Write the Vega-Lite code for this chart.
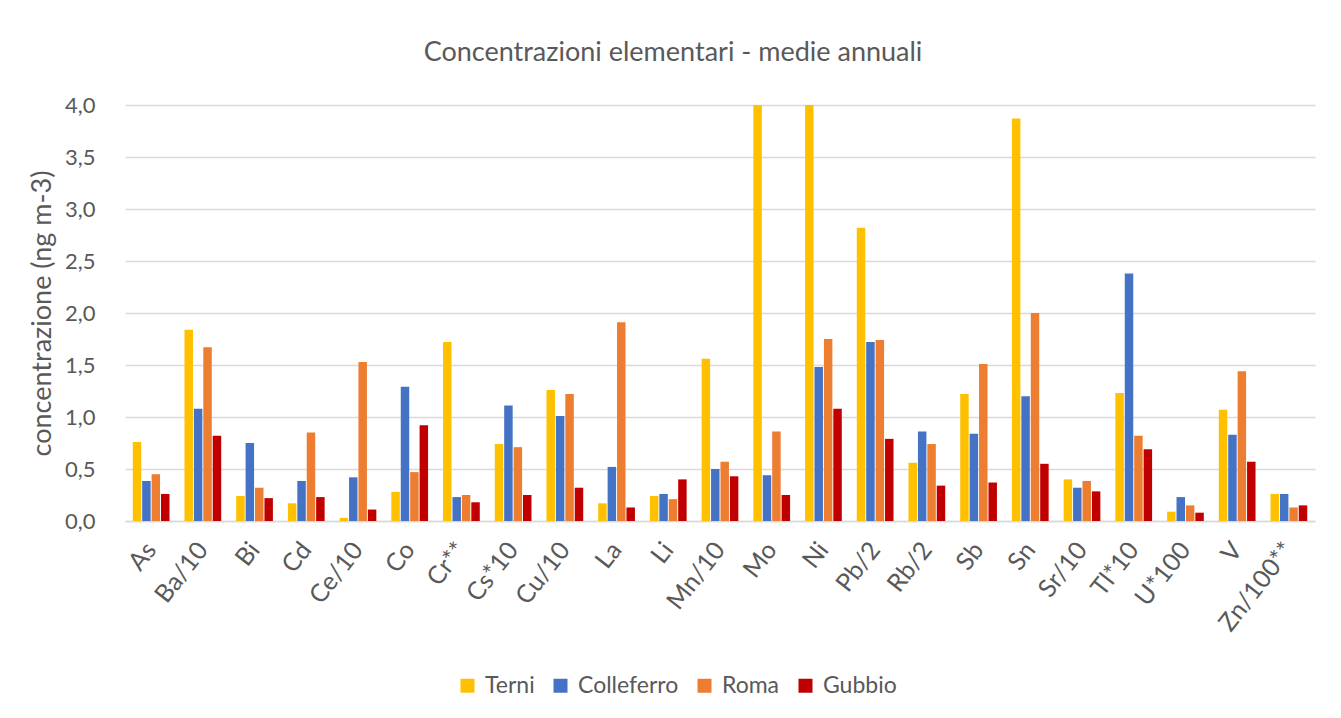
{
  "$schema": "https://vega.github.io/schema/vega-lite/v6.json",
  "width": 1190,
  "height": 416,
  "autosize": {"type": "none"},
  "padding": {"left": 125, "top": 105, "right": 26, "bottom": 197},
  "background": "white",
  "title": {
    "text": "Concentrazioni elementari - medie annuali",
    "font": "Lato",
    "fontSize": 27,
    "fontWeight": "normal",
    "color": "#595959",
    "anchor": "middle",
    "frame": "group",
    "offset": 27,
    "dx": -47
  },
  "config": {
    "font": "Lato",
    "view": {"stroke": null}
  },
  "data": {
    "values": [
      {"element": "As", "site": "Terni", "value": 0.76},
      {"element": "As", "site": "Colleferro", "value": 0.385},
      {"element": "As", "site": "Roma", "value": 0.45},
      {"element": "As", "site": "Gubbio", "value": 0.26},
      {"element": "Ba/10", "site": "Terni", "value": 1.84},
      {"element": "Ba/10", "site": "Colleferro", "value": 1.08},
      {"element": "Ba/10", "site": "Roma", "value": 1.67},
      {"element": "Ba/10", "site": "Gubbio", "value": 0.82},
      {"element": "Bi", "site": "Terni", "value": 0.24},
      {"element": "Bi", "site": "Colleferro", "value": 0.75},
      {"element": "Bi", "site": "Roma", "value": 0.32},
      {"element": "Bi", "site": "Gubbio", "value": 0.22},
      {"element": "Cd", "site": "Terni", "value": 0.17},
      {"element": "Cd", "site": "Colleferro", "value": 0.385},
      {"element": "Cd", "site": "Roma", "value": 0.85},
      {"element": "Cd", "site": "Gubbio", "value": 0.23},
      {"element": "Ce/10", "site": "Terni", "value": 0.03},
      {"element": "Ce/10", "site": "Colleferro", "value": 0.42},
      {"element": "Ce/10", "site": "Roma", "value": 1.53},
      {"element": "Ce/10", "site": "Gubbio", "value": 0.11},
      {"element": "Co", "site": "Terni", "value": 0.28},
      {"element": "Co", "site": "Colleferro", "value": 1.29},
      {"element": "Co", "site": "Roma", "value": 0.47},
      {"element": "Co", "site": "Gubbio", "value": 0.92},
      {"element": "Cr**", "site": "Terni", "value": 1.72},
      {"element": "Cr**", "site": "Colleferro", "value": 0.23},
      {"element": "Cr**", "site": "Roma", "value": 0.25},
      {"element": "Cr**", "site": "Gubbio", "value": 0.18},
      {"element": "Cs*10", "site": "Terni", "value": 0.74},
      {"element": "Cs*10", "site": "Colleferro", "value": 1.11},
      {"element": "Cs*10", "site": "Roma", "value": 0.71},
      {"element": "Cs*10", "site": "Gubbio", "value": 0.25},
      {"element": "Cu/10", "site": "Terni", "value": 1.26},
      {"element": "Cu/10", "site": "Colleferro", "value": 1.01},
      {"element": "Cu/10", "site": "Roma", "value": 1.22},
      {"element": "Cu/10", "site": "Gubbio", "value": 0.32},
      {"element": "La", "site": "Terni", "value": 0.17},
      {"element": "La", "site": "Colleferro", "value": 0.52},
      {"element": "La", "site": "Roma", "value": 1.91},
      {"element": "La", "site": "Gubbio", "value": 0.13},
      {"element": "Li", "site": "Terni", "value": 0.24},
      {"element": "Li", "site": "Colleferro", "value": 0.26},
      {"element": "Li", "site": "Roma", "value": 0.21},
      {"element": "Li", "site": "Gubbio", "value": 0.40},
      {"element": "Mn/10", "site": "Terni", "value": 1.56},
      {"element": "Mn/10", "site": "Colleferro", "value": 0.50},
      {"element": "Mn/10", "site": "Roma", "value": 0.57},
      {"element": "Mn/10", "site": "Gubbio", "value": 0.43},
      {"element": "Mo", "site": "Terni", "value": 4.0},
      {"element": "Mo", "site": "Colleferro", "value": 0.44},
      {"element": "Mo", "site": "Roma", "value": 0.86},
      {"element": "Mo", "site": "Gubbio", "value": 0.25},
      {"element": "Ni", "site": "Terni", "value": 4.0},
      {"element": "Ni", "site": "Colleferro", "value": 1.48},
      {"element": "Ni", "site": "Roma", "value": 1.75},
      {"element": "Ni", "site": "Gubbio", "value": 1.08},
      {"element": "Pb/2", "site": "Terni", "value": 2.82},
      {"element": "Pb/2", "site": "Colleferro", "value": 1.72},
      {"element": "Pb/2", "site": "Roma", "value": 1.74},
      {"element": "Pb/2", "site": "Gubbio", "value": 0.79},
      {"element": "Rb/2", "site": "Terni", "value": 0.56},
      {"element": "Rb/2", "site": "Colleferro", "value": 0.86},
      {"element": "Rb/2", "site": "Roma", "value": 0.74},
      {"element": "Rb/2", "site": "Gubbio", "value": 0.34},
      {"element": "Sb", "site": "Terni", "value": 1.22},
      {"element": "Sb", "site": "Colleferro", "value": 0.84},
      {"element": "Sb", "site": "Roma", "value": 1.51},
      {"element": "Sb", "site": "Gubbio", "value": 0.37},
      {"element": "Sn", "site": "Terni", "value": 3.87},
      {"element": "Sn", "site": "Colleferro", "value": 1.20},
      {"element": "Sn", "site": "Roma", "value": 2.0},
      {"element": "Sn", "site": "Gubbio", "value": 0.55},
      {"element": "Sr/10", "site": "Terni", "value": 0.40},
      {"element": "Sr/10", "site": "Colleferro", "value": 0.32},
      {"element": "Sr/10", "site": "Roma", "value": 0.385},
      {"element": "Sr/10", "site": "Gubbio", "value": 0.285},
      {"element": "Tl*10", "site": "Terni", "value": 1.23},
      {"element": "Tl*10", "site": "Colleferro", "value": 2.38},
      {"element": "Tl*10", "site": "Roma", "value": 0.82},
      {"element": "Tl*10", "site": "Gubbio", "value": 0.69},
      {"element": "U*100", "site": "Terni", "value": 0.09},
      {"element": "U*100", "site": "Colleferro", "value": 0.23},
      {"element": "U*100", "site": "Roma", "value": 0.15},
      {"element": "U*100", "site": "Gubbio", "value": 0.08},
      {"element": "V", "site": "Terni", "value": 1.07},
      {"element": "V", "site": "Colleferro", "value": 0.83},
      {"element": "V", "site": "Roma", "value": 1.44},
      {"element": "V", "site": "Gubbio", "value": 0.57},
      {"element": "Zn/100**", "site": "Terni", "value": 0.26},
      {"element": "Zn/100**", "site": "Colleferro", "value": 0.26},
      {"element": "Zn/100**", "site": "Roma", "value": 0.13},
      {"element": "Zn/100**", "site": "Gubbio", "value": 0.15}
    ]
  },
  "mark": {"type": "bar", "clip": true},
  "encoding": {
    "x": {
      "field": "element",
      "type": "nominal",
      "sort": null,
      "scale": {"paddingInner": 0.29, "paddingOuter": 0.15},
      "axis": {
        "title": null,
        "labelAngle": -52,
        "labelFontSize": 25,
        "labelColor": "#595959",
        "labelPadding": 24,
        "ticks": false,
        "domainColor": "#d9d9d9",
        "domainWidth": 1.5
      }
    },
    "xOffset": {
      "field": "site",
      "type": "nominal",
      "sort": ["Terni", "Colleferro", "Roma", "Gubbio"],
      "scale": {"paddingInner": 0.1}
    },
    "y": {
      "field": "value",
      "type": "quantitative",
      "scale": {"domain": [0, 4], "nice": false},
      "axis": {
        "title": "concentrazione (ng m-3)",
        "titleFontSize": 27,
        "titleFontWeight": "normal",
        "titleColor": "#595959",
        "titlePadding": 8,
        "values": [0, 0.5, 1, 1.5, 2, 2.5, 3, 3.5, 4],
        "labelExpr": "replace(format(datum.value, '.1f'), '.', ',')",
        "labelFontSize": 22,
        "labelColor": "#595959",
        "labelPadding": 30,
        "ticks": false,
        "domain": false,
        "gridColor": "#d9d9d9",
        "gridWidth": 1.5
      }
    },
    "color": {
      "field": "site",
      "type": "nominal",
      "sort": ["Terni", "Colleferro", "Roma", "Gubbio"],
      "scale": {
        "domain": ["Terni", "Colleferro", "Roma", "Gubbio"],
        "range": ["#FFC000", "#4472C4", "#ED7D31", "#C00000"]
      },
      "legend": {
        "title": null,
        "orient": "none",
        "direction": "horizontal",
        "legendX": 331,
        "legendY": 569,
        "symbolType": "square",
        "symbolSize": 196,
        "symbolStrokeWidth": 0,
        "labelFontSize": 23,
        "labelColor": "#595959",
        "columnPadding": 14,
        "labelOffset": 6
      }
    }
  }
}
